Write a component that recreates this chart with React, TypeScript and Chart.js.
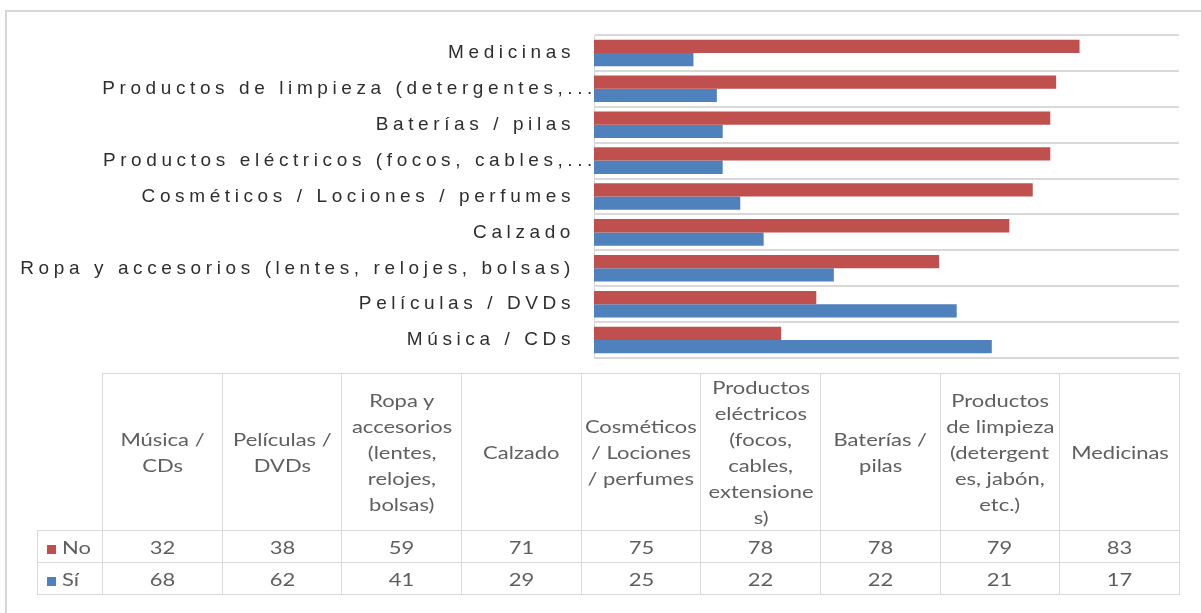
import React, { useEffect, useRef } from "react";
import { Chart, registerables } from "chart.js";

Chart.register(...registerables);

// ---- Data ----
const categories = [
  "Música / CDs",
  "Películas / DVDs",
  "Ropa y accesorios (lentes, relojes, bolsas)",
  "Calzado",
  "Cosméticos / Lociones / perfumes",
  "Productos eléctricos (focos, cables, extensiones)",
  "Baterías / pilas",
  "Productos de limpieza (detergentes, jabón, etc.)",
  "Medicinas",
];
const axisLabels = [
  "Música / CDs",
  "Películas / DVDs",
  "Ropa y accesorios (lentes, relojes, bolsas)",
  "Calzado",
  "Cosméticos / Lociones / perfumes",
  "Productos eléctricos (focos, cables,...",
  "Baterías / pilas",
  "Productos de limpieza (detergentes,...",
  "Medicinas",
];
const headerLines = [
  ["Música /", "CDs"],
  ["Películas /", "DVDs"],
  ["Ropa y", "accesorios", "(lentes,", "relojes,", "bolsas)"],
  ["Calzado"],
  ["Cosméticos", "/ Lociones", "/ perfumes"],
  ["Productos", "eléctricos", "(focos,", "cables,", "extensione", "s)"],
  ["Baterías /", "pilas"],
  ["Productos", "de limpieza", "(detergent", "es, jabón,", "etc.)"],
  ["Medicinas"],
];
const seriesNames = ["No", "Sí"];
const noValues = [32, 38, 59, 71, 75, 78, 78, 79, 83];
const siValues = [68, 62, 41, 29, 25, 22, 22, 21, 17];

const RED = "#C0504D";
const BLUE = "#4F81BD";
const GRID = "#d9d9d9";
const LS = "4.6px";
const TRUNC_SHIFT = 22; // truncated labels overflow to the right (as in the original)

const letterSpacingPlugin = {
  id: "letterSpacingPlugin",
  beforeUpdate(chart: any) {
    chart.ctx.letterSpacing = LS;
  },
  beforeDraw(chart: any) {
    chart.ctx.letterSpacing = LS;
    const s = chart.scales.y;
    if (!s || !s.getLabelItems) return;
    const items = s.getLabelItems(chart.chartArea);
    items.forEach((it: any) => {
      if (typeof it.label === "string" && it.label.endsWith("...") && !it._shifted) {
        const t = it.options.translation;
        it.options.translation = [t[0] + TRUNC_SHIFT, t[1]];
        it._shifted = true;
      }
    });
  },
};

const CANVAS_H = 389;
const TABLE_LEFT = 37;
const TABLE_TOP = 373;
const ROWHEAD_W = 65;
const COL_W = 119.67;
const HEADER_H = 156;
const ROW_H = 32;

function ChartCanvas() {
  const ref = useRef<HTMLCanvasElement | null>(null);
  useEffect(() => {
    if (!ref.current) return;
    const chart = new Chart(ref.current, {
      type: "bar",
      data: {
        labels: categories,
        datasets: [
          {
            label: seriesNames[0],
            data: noValues,
            backgroundColor: RED,
            borderWidth: 0,
            categoryPercentage: 0.74,
            barPercentage: 1,
          },
          {
            label: seriesNames[1],
            data: siValues,
            backgroundColor: BLUE,
            borderWidth: 0,
            categoryPercentage: 0.74,
            barPercentage: 1,
          },
        ],
      },
      options: {
        indexAxis: "y",
        responsive: false,
        animation: false,
        devicePixelRatio: 1,
        layout: { padding: { left: 0, right: 22, top: 35, bottom: 31 } },
        plugins: {
          legend: { display: false },
          tooltip: { enabled: false },
        },
        scales: {
          x: { display: false, min: 0, max: 100 },
          y: {
            type: "category",
            reverse: true,
            offset: true,
            grid: { offset: true, color: GRID, lineWidth: 2, drawTicks: false },
            border: { display: true, color: GRID, width: 1 },
            ticks: {
              color: "#2e2e2e",
              font: { family: "'Liberation Sans', Arial, sans-serif", size: 19 },
              padding: 19,
              autoSkip: false,
              callback: (_v: any, i: number) => axisLabels[i],
            },
            afterFit: (s: any) => {
              s.width = 594;
            },
          },
        },
      },
      plugins: [letterSpacingPlugin],
    } as any);
    return () => chart.destroy();
  }, []);
  return (
    <canvas
      ref={ref}
      width={1201}
      height={CANVAS_H}
      style={{ position: "absolute", left: 0, top: 0, width: 1201, height: CANVAS_H }}
    />
  );
}

const cellText: React.CSSProperties = {
  display: "inline-block",
  transform: "scaleX(1.22)",
  transformOrigin: "center",
  whiteSpace: "nowrap",
};

function DataTable() {
  const border = `1px solid ${GRID}`;
  const rows = [noValues, siValues];
  const colors = [RED, BLUE];
  return (
    <table
      style={{
        position: "absolute",
        left: TABLE_LEFT,
        top: TABLE_TOP,
        borderCollapse: "collapse",
        tableLayout: "fixed",
        width: ROWHEAD_W + COL_W * 9,
        fontFamily: "Lato, 'Open Sans', sans-serif",
        fontSize: 18,
        lineHeight: "26px",
        color: "#5f5f5f",
        background: "transparent",
      }}
    >
      <colgroup>
        <col style={{ width: ROWHEAD_W }} />
        {categories.map((c) => (
          <col key={c} style={{ width: COL_W }} />
        ))}
      </colgroup>
      <tbody>
        <tr style={{ height: HEADER_H }}>
          <td style={{ padding: 0, border: "none" }}></td>
          {headerLines.map((lines, i) => (
            <td
              key={i}
              style={{ border, padding: 0, textAlign: "center", verticalAlign: "middle" }}
            >
              {lines.map((l, j) => (
                <div key={j}>
                  <span style={cellText}>{l}</span>
                </div>
              ))}
            </td>
          ))}
        </tr>
        {rows.map((vals, r) => (
          <tr key={r} style={{ height: ROW_H }}>
            <td style={{ border, padding: 0, paddingLeft: 9, textAlign: "left", whiteSpace: "nowrap" }}>
              <span
                style={{
                  display: "inline-block",
                  width: 9,
                  height: 9,
                  background: colors[r],
                  marginRight: 6,
                  verticalAlign: "0px",
                }}
              />
              <span style={{ ...cellText, transformOrigin: "left" }}>{seriesNames[r]}</span>
            </td>
            {vals.map((v, i) => (
              <td key={i} style={{ border, padding: 0, textAlign: "center" }}>
                <span style={cellText}>{v}</span>
              </td>
            ))}
          </tr>
        ))}
      </tbody>
    </table>
  );
}

export default function App() {
  return (
    <div
      style={{
        position: "fixed",
        left: 0,
        top: 0,
        width: 1201,
        height: 613,
        background: "#ffffff",
        overflow: "hidden",
      }}
    >
      <div style={{ position: "absolute", left: 6, top: 10, width: 1195, height: 2, background: "#d6d6d6" }} />
      <div style={{ position: "absolute", left: 5, top: 10, width: 2, height: 603, background: "#d6d6d6" }} />
      <ChartCanvas />
      <DataTable />
    </div>
  );
}
